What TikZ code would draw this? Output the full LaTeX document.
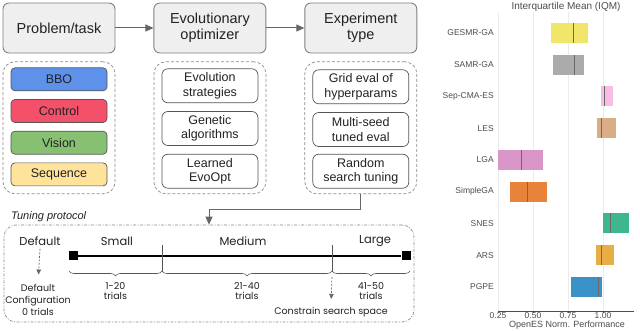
\documentclass[tikz,border=0pt]{standalone}
\usepackage{fontspec}
\setmainfont{Liberation Sans}
\newfontfamily\tunefont{Poppins}
\usetikzlibrary{arrows.meta,positioning,decorations.pathreplacing}
\definecolor{ink}{HTML}{222222}
\definecolor{boxfill}{HTML}{EFEFEF}
\definecolor{boxline}{HTML}{808080}
\definecolor{dashgray}{HTML}{8C8C8C}
\definecolor{arrowgray}{HTML}{666666}
\definecolor{darkline}{HTML}{555555}
\definecolor{bbofill}{HTML}{5E92EA}
\definecolor{controlfill}{HTML}{F5506A}
\definecolor{visionfill}{HTML}{88C072}
\definecolor{sequencefill}{HTML}{FFE39A}
\definecolor{gridgray}{HTML}{EBEBEB}
\definecolor{axisgray}{HTML}{4D4D4D}
\definecolor{mediangray}{HTML}{6A6A6A}
\definecolor{gesmr}{HTML}{F0E66A}
\definecolor{samr}{HTML}{ABABAB}
\definecolor{sepcma}{HTML}{F9BDE4}
\definecolor{les}{HTML}{D8AE86}
\definecolor{lga}{HTML}{D896C8}
\definecolor{simplega}{HTML}{E8843A}
\definecolor{snes}{HTML}{3DB88E}
\definecolor{ars}{HTML}{E8AE45}
\definecolor{pgpe}{HTML}{3B92C8}
\tikzset{
  every node/.style={text=ink},
  mainbox/.style={draw=boxline, fill=boxfill, rounded corners=6pt, line width=0.9pt, minimum width=112pt, minimum height=50pt, align=center, inner sep=0pt, font=\fontsize{14.5}{16.5}\selectfont},
  groupbox/.style={draw=dashgray, dash pattern=on 3pt off 2pt, line width=0.7pt, rounded corners=12pt, minimum width=112pt, minimum height=132pt, inner sep=0pt},
  taskbox/.style={draw=darkline, line width=0.7pt, rounded corners=4pt, minimum width=96pt, minimum height=23pt, inner sep=0pt, font=\fontsize{12.5}{14.5}\selectfont},
  optbox/.style={draw=darkline, fill=white, line width=0.7pt, rounded corners=6pt, minimum width=96pt, minimum height=34pt, inner sep=0pt, align=center, font=\fontsize{12.5}{14.5}\selectfont},
  tunebox/.style={draw=dashgray, dash pattern=on 3pt off 1.5pt on 1pt off 1.5pt, line width=0.7pt, rounded corners=12pt, minimum width=410pt, minimum height=97pt, inner sep=0pt},
  arrow/.style={-{Triangle[length=8pt,width=7pt]}, line width=1pt, draw=arrowgray},
  dasharrow/.style={-{Triangle[length=5pt,width=4.5pt]}, line width=0.7pt, dash pattern=on 2pt off 1.5pt, draw=arrowgray},
  tunelabel/.style={font=\tunefont\fontsize{11.5}{13}\selectfont},
  trials/.style={font=\tunefont\fontsize{9.5}{10.5}\selectfont, align=center, inner sep=1pt},
  endmark/.style={fill=black, minimum size=9pt, inner sep=0pt},
  timeline/.style={line width=2.4pt, draw=black},
  tickline/.style={line width=0.5pt, draw=darkline},
  brace/.style={decorate, decoration={brace, mirror, amplitude=5pt}, line width=0.6pt, draw=darkline},
  barlabel/.style={anchor=east, inner sep=0pt, font=\fontsize{8.5}{10}\selectfont, text=axisgray},
  ticklabel/.style={inner sep=0pt, font=\fontsize{8.5}{9}\selectfont, text=axisgray},
  gridline/.style={line width=0.5pt, draw=gridgray},
}

\begin{document}
\begin{tikzpicture}[x=1pt, y=-1pt]
\useasboundingbox (0,0) rectangle (640,331);
\fill[white] (0,0) rectangle (640,331);
% pipeline
\node[mainbox] (prob) at (59,28) {Problem/task};
\node[mainbox, right=38pt of prob] (evo) {Evolutionary\\optimizer};
\node[mainbox, right=38pt of evo] (exp) {Experiment\\type};
\draw[arrow] (prob) -- (evo);
\draw[arrow] (evo) -- (exp);
\node[groupbox, below=8pt of prob] (probc) {};
\node[groupbox, below=8pt of evo] (evoc) {};
\node[groupbox, below=8pt of exp] (expc) {};
\node[taskbox, fill=bbofill, below=6pt of probc.north] (bbo) {BBO};
\node[taskbox, fill=controlfill, below=8pt of bbo] (ctrl) {Control};
\node[taskbox, fill=visionfill, below=8pt of ctrl] (vis) {Vision};
\node[taskbox, fill=sequencefill, below=8pt of vis] (seq) {Sequence};
\node[optbox, below=7pt of evoc.north] (es) {Evolution\\strategies};
\node[optbox, below=8pt of es] (ga) {Genetic\\algorithms};
\node[optbox, below=8pt of ga] (leo) {Learned\\EvoOpt};
\node[optbox, below=8pt of expc.north] (grid) {Grid eval of\\hyperparams};
\node[optbox, below=8pt of grid] (mse) {Multi-seed\\tuned eval};
\node[optbox, below=7pt of mse] (rst) {Random\\search tuning};
% tuning protocol
\node[tunebox] (tun) at (209,273.5) {};
\node[anchor=west, inner sep=0pt, font=\itshape\fontsize{11}{13}\selectfont] (tunlab) at (11,217) {Tuning protocol};
\draw[arrow] (expc.south) -- ++(0,15) -| (tun.north);
\node[tunelabel] (ldef) at (40,241) {Default};
\node[tunelabel] (lsmall) at (117,241) {Small};
\node[tunelabel] (lmed) at (243,241) {Medium};
\node[tunelabel] (llarge) at (375,241) {Large};
\node[endmark] (t0) at (73,256) {};
\node[endmark] (t1) at (406,256) {};
\draw[timeline] (t0) -- (t1);
\coordinate (m1) at (162,245);
\coordinate (m2) at (332,245);
\draw[tickline] (m1) -- ++(0,27);
\draw[tickline] (m2) -- ++(0,27);
\draw[brace] (69,271) -- (162,271) node[midway, below=10pt, trials] (n1) {1-20\\trials};
\draw[brace] (162,271) -- (332,271) node[midway, below=10pt, trials] (n2) {21-40\\trials};
\draw[brace] (332,271) -- (410,271) node[midway, below=10pt, trials] (n3) {41-50\\trials};
\node[trials, anchor=north, font=\tunefont\fontsize{9.5}{12}\selectfont] (dcfg) at (38,283.5) {Default\\Configuration\\0 trials};
\draw[dasharrow, shorten >=9pt] (ldef.south) -- (dcfg.north);
\coordinate (cstart) at (332,277);
\node[trials] (cons) at (331,312) {Constrain search space};
\draw[dasharrow, shorten >=7pt] (cstart) -- (cons.north);
% IQM chart
\node[font=\fontsize{10}{12}\selectfont, text=axisgray, inner sep=0pt] (ctitle) at (566,7) {Interquartile Mean (IQM)};
\begin{scope}[xshift=463pt, x=140pt]
  \foreach \v in {0.25,0.5,0.75,1.0} \draw[gridline] (\v,12) -- (\v,311);
  \draw[line width=0.6pt, draw=axisgray] (0.25,311) -- (1.221,311);
  \foreach \v/\t in {0.25/0.25,0.5/0.50,0.75/0.75,1.0/1.00} {
    \draw[line width=0.5pt, draw=axisgray] (\v,311) -- (\v,313);
    \node[ticklabel] at (\v,315.5) {\t};
  }
  \foreach \lab/\lo/\hi/\med/\col [count=\i] in {
      GESMR-GA/0.629/0.893/0.786/gesmr,
      SAMR-GA/0.643/0.864/0.793/samr,
      Sep-CMA-ES/0.986/1.071/1.007/sepcma,
      LES/0.957/1.093/0.986/les,
      LGA/0.25/0.571/0.414/lga,
      SimpleGA/0.336/0.600/0.457/simplega,
      SNES/1.0/1.186/1.05/snes,
      ARS/0.950/1.079/0.986/ars,
      PGPE/0.771/0.993/0.964/pgpe} {
    \pgfmathsetmacro\yy{33+(\i-1)*31.75}
    \fill[\col] (\lo,\yy-10) rectangle (\hi,\yy+10);
    \draw[line width=0.9pt, draw=mediangray] (\med,\yy-10) -- (\med,\yy+10);
    \node[barlabel] (bar\i) at (0.221,\yy) {\lab};
  }
\end{scope}
\node[font=\fontsize{9}{11}\selectfont, text=axisgray, inner sep=0pt] (xlab) at (567,325.5) {OpenES Norm. Performance};
\end{tikzpicture}
\end{document}
